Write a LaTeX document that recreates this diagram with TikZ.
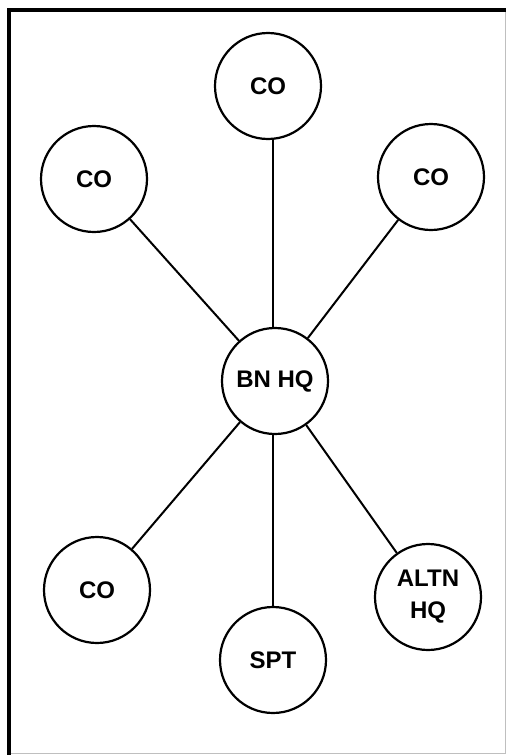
\documentclass[tikz,border=0pt]{standalone}
\usepackage{fontspec}
\setmainfont{Liberation Sans}
\begin{document}
\begin{tikzpicture}[x=1pt,y=-1pt,
  unit/.style={circle,draw,line width=2.2pt,minimum size=106pt,inner sep=0pt,
    font=\fontsize{24}{26}\selectfont\bfseries,align=center},
  link/.style={line width=2pt}]
\useasboundingbox (0,0) rectangle (506,755);
\fill[white] (0,0) rectangle (506,755);
% frame
\draw[line width=4pt] (9,10) -- (506,10);
\draw[line width=4pt] (9,8) -- (9,755);
\draw[line width=0.8pt,black!25] (505,12) -- (505,753) -- (11,753);
% nodes
\node[unit] (bn)   at (275,381) {BN HQ};
\node[unit] (co1)  at (268,86)  {CO};
\node[unit] (co2)  at (94,179)  {CO};
\node[unit] (co3)  at (431,177) {CO};
\node[unit] (co4)  at (97,590)  {CO};
\node[unit] (spt)  at (273,660) {SPT};
\node[unit] (altn) at (428,597) {ALTN\\[6pt]HQ};
% connectors
\draw[link] (bn.north -| 273,0) -- (co1.south -| 273,0);
\draw[link] (bn) -- (co2);
\draw[link] (bn) -- (co3);
\draw[link] (bn) -- (co4);
\draw[link] (bn.south -| 273,0) -- (spt);
\draw[link] (bn) -- (altn);
\end{tikzpicture}
\end{document}
